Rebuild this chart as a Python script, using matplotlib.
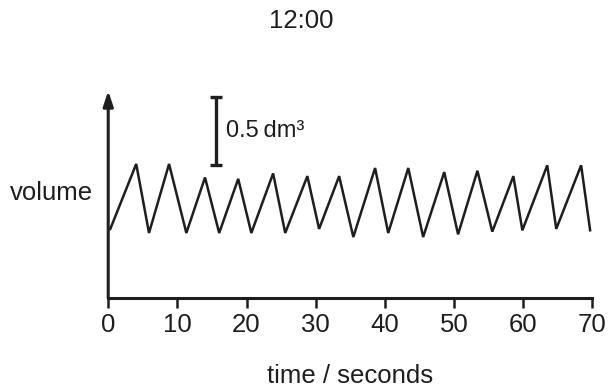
import matplotlib

matplotlib.use("Agg")
import matplotlib.pyplot as plt

# spirometer trace: turning points (time in s, volume in dm3)
time_s = [0.3, 4.05, 5.9, 8.8, 11.3, 14.0, 16.05, 18.8, 20.7, 23.85, 25.6, 28.8,
          30.5, 33.4, 35.45, 38.6, 40.5, 43.4, 45.55, 48.6, 50.6, 53.4, 55.55,
          58.6, 59.9, 63.5, 64.8, 68.4, 69.7]
volume_dm3 = [0.51, 0.99, 0.48, 0.99, 0.48, 0.89, 0.48, 0.88, 0.48, 0.92, 0.48,
              0.90, 0.51, 0.90, 0.45, 0.96, 0.48, 0.96, 0.45, 0.93, 0.47, 0.94,
              0.49, 0.90, 0.50, 0.98, 0.51, 0.98, 0.50]
x_ticks = [0, 10, 20, 30, 40, 50, 60, 70]

# scale bar
bar_time = 15.6
bar_low, bar_high = 0.985, 1.485

INK = "#1e1e1e"

plt.rcParams["font.family"] = ["Liberation Sans", "DejaVu Sans"]

fig = plt.figure(figsize=(6.08, 3.89), dpi=100)
ax = fig.add_axes([0.178, 0.234, 0.796, 0.522])

ax.plot(time_s, volume_dm3, color=INK, lw=1.8, solid_joinstyle="miter")

ax.errorbar([bar_time], [(bar_low + bar_high) / 2], yerr=[(bar_high - bar_low) / 2],
            color=INK, lw=2.4, capsize=4.5, capthick=2.4)
ax.text(bar_time + 1.4, (bar_low + bar_high) / 2, "0.5\u2009dm\u00b3",
        fontsize=17, va="center", ha="left", color=INK)

ax.set_xlim(0, 70)
ax.set_ylim(0, 1.5)
ax.set_xticks(x_ticks)
ax.set_yticks([])
ax.tick_params(axis="x", direction="out", length=7, width=1.8, color=INK,
               labelsize=18.5, labelcolor=INK, pad=4)

for side in ("top", "right", "left"):
    ax.spines[side].set_visible(False)
ax.spines["bottom"].set_linewidth(2.2)
ax.spines["bottom"].set_color(INK)

# y axis drawn as an arrow
ax.annotate("", xy=(0, 1.02), xytext=(0, 0), xycoords="axes fraction",
            arrowprops=dict(arrowstyle="-|>,head_length=0.9,head_width=0.3",
                            color=INK, lw=2.2, shrinkA=0, shrinkB=0),
            annotation_clip=False)

ax.set_xlabel("time / seconds", fontsize=18.5, color=INK, labelpad=19)
fig.text(0.016, 0.503, "volume", fontsize=18.5, color=INK, ha="left", va="center")
fig.text(0.495, 0.945, "12:00", fontsize=18.5, color=INK, ha="center", va="center")

fig.savefig("out.png", dpi=100)
